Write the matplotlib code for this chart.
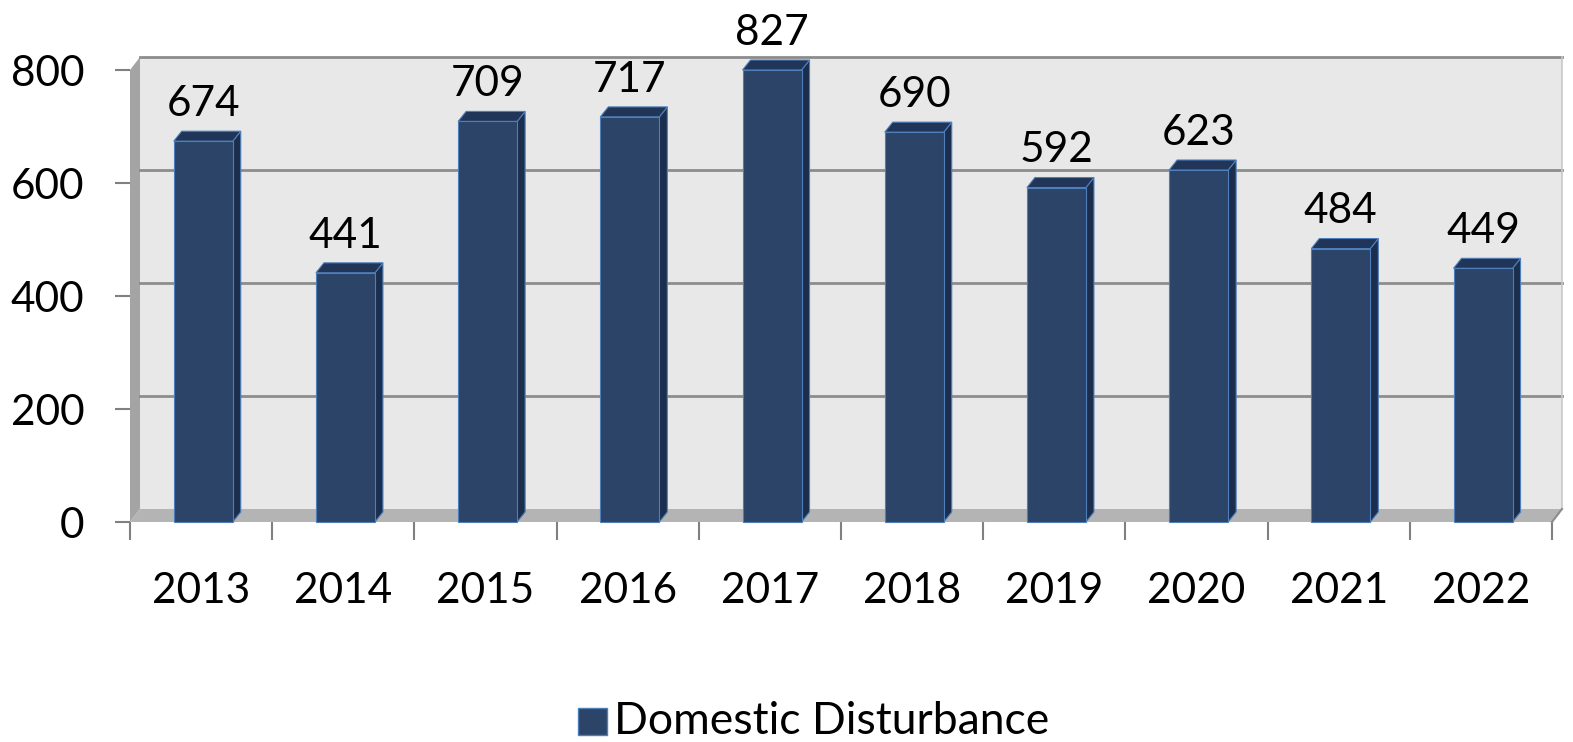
import matplotlib
matplotlib.use('Agg')
import matplotlib.pyplot as plt
from matplotlib.patches import Polygon, Rectangle

years = ['2013', '2014', '2015', '2016', '2017', '2018', '2019', '2020', '2021', '2022']
counts = [674, 441, 709, 717, 827, 690, 592, 623, 484, 449]
y_ticks = [0, 200, 400, 600, 800]
series_name = 'Domestic Disturbance'

plt.rcParams['font.family'] = ['Lato', 'DejaVu Sans']

W, H, DPI = 1573, 742, 100
fig = plt.figure(figsize=(W / DPI, H / DPI), dpi=DPI)
left, right, top, bottom = 130, 1552, 70, 522
ax = fig.add_axes([left / W, 1 - bottom / H, (right - left) / W, (bottom - top) / H])
ymax = 800
n = len(years)
ax.set_xlim(0, n)
ax.set_ylim(0, ymax)
ax.set_facecolor('none')
for s in ax.spines.values():
    s.set_visible(False)

# pixel -> data conversion for the fake 3d depth
px_x = n / (right - left)
px_y = ymax / (bottom - top)
wdx, wdy = 10 * px_x, 13 * px_y   # back wall offset
bdx, bdy = 8 * px_x, 10 * px_y    # bar depth

wall_col = '#e8e8e8'
side_col = '#a4a4a4'
floor_col = '#b4b4b4'
grid_col = '#8c8c8c'
fs = 30.5

# back wall, side wall, floor
ax.add_patch(Rectangle((wdx, wdy), n, ymax, fc=wall_col, ec='none', zorder=0, clip_on=False))
ax.add_patch(Polygon([(0, 0), (wdx, wdy), (wdx, ymax + wdy), (0, ymax)],
                     fc=side_col, ec='none', zorder=1, clip_on=False))
for g in y_ticks[1:]:
    ax.plot([wdx, n + wdx], [g + wdy, g + wdy], color=grid_col, lw=2, zorder=1, clip_on=False)
ax.plot([n + wdx, n + wdx], [wdy, ymax + wdy], color='#c8c8c8', lw=1.2, zorder=1, clip_on=False)
ax.add_patch(Polygon([(0, 0), (n, 0), (n + wdx, wdy), (wdx, wdy)],
                     fc=floor_col, ec='none', zorder=2, clip_on=False))
ax.plot([n, n + wdx], [0, wdy], color=grid_col, lw=1.5, zorder=2, clip_on=False)

# bars
front = '#2b4467'
side = '#1c2e4e'
topc = '#203558'
edge = '#4f7fba'
bw = 0.415
for i, v in enumerate(counts):
    h = min(v, ymax)
    x0 = i + 0.515 - bw / 2
    x1 = x0 + bw
    ax.add_patch(Polygon([(x1, 0), (x1 + bdx, bdy), (x1 + bdx, h + bdy), (x1, h)],
                         fc=side, ec=edge, lw=0.8, zorder=3, clip_on=False))
    ax.add_patch(Polygon([(x0, h), (x1, h), (x1 + bdx, h + bdy), (x0 + bdx, h + bdy)],
                         fc=topc, ec=edge, lw=0.8, zorder=3, clip_on=False))
    ax.add_patch(Rectangle((x0, 0), bw, h, fc=front, ec=edge, lw=0.8, zorder=4, clip_on=False))
    ax.annotate(str(v), (i + 0.515, h), xytext=(0, 13), textcoords='offset points',
                ha='center', va='bottom', fontsize=fs, zorder=5, annotation_clip=False)

# axes ticks
ax.set_yticks(y_ticks)
ax.set_yticklabels([str(t) for t in y_ticks])
ax.tick_params(axis='y', length=11, width=1.5, color='#808080', pad=22, labelsize=fs)
ax.set_xticks(range(n + 1))
ax.set_xticklabels([])
ax.set_xticks([i + 0.5 for i in range(n)], minor=True)
ax.set_xticklabels(years, minor=True)
ax.tick_params(axis='x', which='major', length=13, width=1.5, color='#808080')
ax.tick_params(axis='x', which='minor', length=0, pad=36, labelsize=fs)

# legend
fig.patches.append(Rectangle((578 / W, 1 - 735 / H), 29 / W, 27 / H, transform=fig.transFigure,
                             fc=front, ec=edge, lw=1, figure=fig))
fig.text(614 / W, 1 - 722 / H, series_name, va='center', ha='left', fontsize=32)

fig.savefig('out.png', dpi=DPI)
